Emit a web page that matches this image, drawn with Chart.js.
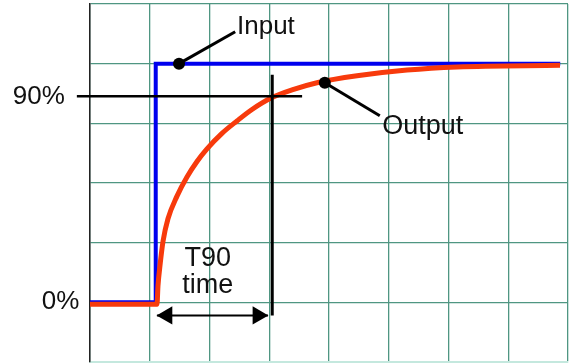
<!DOCTYPE html>
<html>
<head>
<meta charset="utf-8">
<script src="https://cdn.jsdelivr.net/npm/chart.js@4.4.0/dist/chart.umd.min.js"></script>
<style>
  html, body { margin: 0; padding: 0; background: #fff; }
  #wrap { width: 573px; height: 363px; }
</style>
</head>
<body>
<div id="wrap"><canvas id="c" width="573" height="363"></canvas></div>
<script>
// x in grid squares, y in percent of the step
const inputX = [0, 1.1, 1.1, 7.87];
const inputY = [0, 0, 100, 100];

const outputX = [0, 1.121, 1.138, 1.172, 1.222, 1.305, 1.456, 1.623, 1.791, 1.958, 2.209, 2.460, 2.711, 3.046, 3.381, 3.799, 4.469, 5.305, 6.142, 7.866];
const outputY = [-0.8, -0.8, 7, 15.5, 25.5, 35, 44.5, 52.5, 59, 64.3, 70.8, 76, 80.8, 85.8, 89, 92, 94.9, 97.3, 98.6, 99.3];

// 90% marker line and T90 line
const levelX = [-0.22, 3.55];
const levelY = [86.3, 86.3];
const t90X = [3.05, 3.05];
const t90Y = [95.4, -5.5];

// T90 arrow
const arrowX = [1.12, 2.98];
const arrowY = [-5.5, -5.5];
const headX = [1.29, 2.81];
const headY = [-5.5, -5.5];
const headRot = [270, 90];

// callouts
const dotX = [1.49, 3.93];
const dotY = [100, 92];
const inputLeadX = [1.49, 2.43];
const inputLeadY = [100, 113.4];
const outputLeadX = [3.93, 4.85];
const outputLeadY = [92, 78.2];

const labelText = ['90%', '0%', 'Input', 'Output', 'T90', 'time'];
const labelX = [-0.42, -0.18, 2.46, 4.89, 1.97, 1.97];
const labelY = [86.3, 0.2, 115.5, 73.5, 18.5, 7.1];
const labelAlign = ['right', 'right', 'left', 'left', 'center', 'center'];
const labelSize = [26, 26, 26, 27, 27, 27];

const pts = (xs, ys) => xs.map((v, i) => ({ x: v, y: ys[i] }));
const gridColor = '#4f9682';

const labelPlugin = {
  id: 'labels',
  afterDatasetsDraw(chart) {
    const { ctx, scales: { x, y } } = chart;
    ctx.save();
    ctx.fillStyle = '#111';
    ctx.textBaseline = 'middle';
    labelText.forEach((t, i) => {
      ctx.font = labelSize[i] + 'px "Liberation Sans", Arial, sans-serif';
      ctx.textAlign = labelAlign[i];
      ctx.fillText(t, x.getPixelForValue(labelX[i]), y.getPixelForValue(labelY[i]));
    });
    ctx.restore();
  }
};

function line(xs, ys, color, width) {
  return {
    data: pts(xs, ys), borderColor: color, borderWidth: width,
    pointRadius: 0, tension: 0, clip: false, fill: false
  };
}

new Chart(document.getElementById('c'), {
  type: 'line',
  data: {
    datasets: [
      {
        data: pts(dotX, dotY), showLine: false, pointRadius: 6,
        pointBackgroundColor: '#000', pointBorderWidth: 0, clip: false
      },
      line(inputLeadX, inputLeadY, '#000', 3),
      line(outputLeadX, outputLeadY, '#000', 3),
      {
        data: pts(headX, headY), showLine: false, pointStyle: 'triangle',
        pointRadius: 10.5, pointRotation: headRot,
        pointBackgroundColor: '#000', pointBorderWidth: 0, clip: false
      },
      line(arrowX, arrowY, '#000', 2),
      line(levelX, levelY, '#000', 2.5),
      line(t90X, t90Y, '#000', 3),
      {
        data: pts(outputX, outputY), borderColor: '#f73a0c', borderWidth: 5,
        pointRadius: 0, cubicInterpolationMode: 'monotone', clip: false, fill: false
      },
      line(inputX, inputY, '#0000ee', 4)
    ]
  },
  options: {
    responsive: false,
    animation: false,
    events: [],
    layout: { autoPadding: false, padding: { left: 90, right: 5, top: 4, bottom: 1 } },
    plugins: { legend: { display: false }, tooltip: { enabled: false } },
    scales: {
      x: {
        type: 'linear', min: 0, max: 8,
        ticks: { display: false, stepSize: 1 },
        grid: { color: gridColor, lineWidth: 1.3, drawTicks: false },
        border: { color: '#c4e8de', width: 2 }
      },
      y: {
        min: -25, max: 125,
        ticks: { display: false, stepSize: 25 },
        grid: { color: gridColor, lineWidth: 1.3, drawTicks: false },
        border: { color: '#222', width: 1.5 }
      }
    }
  },
  plugins: [labelPlugin]
});
</script>
</body>
</html>
